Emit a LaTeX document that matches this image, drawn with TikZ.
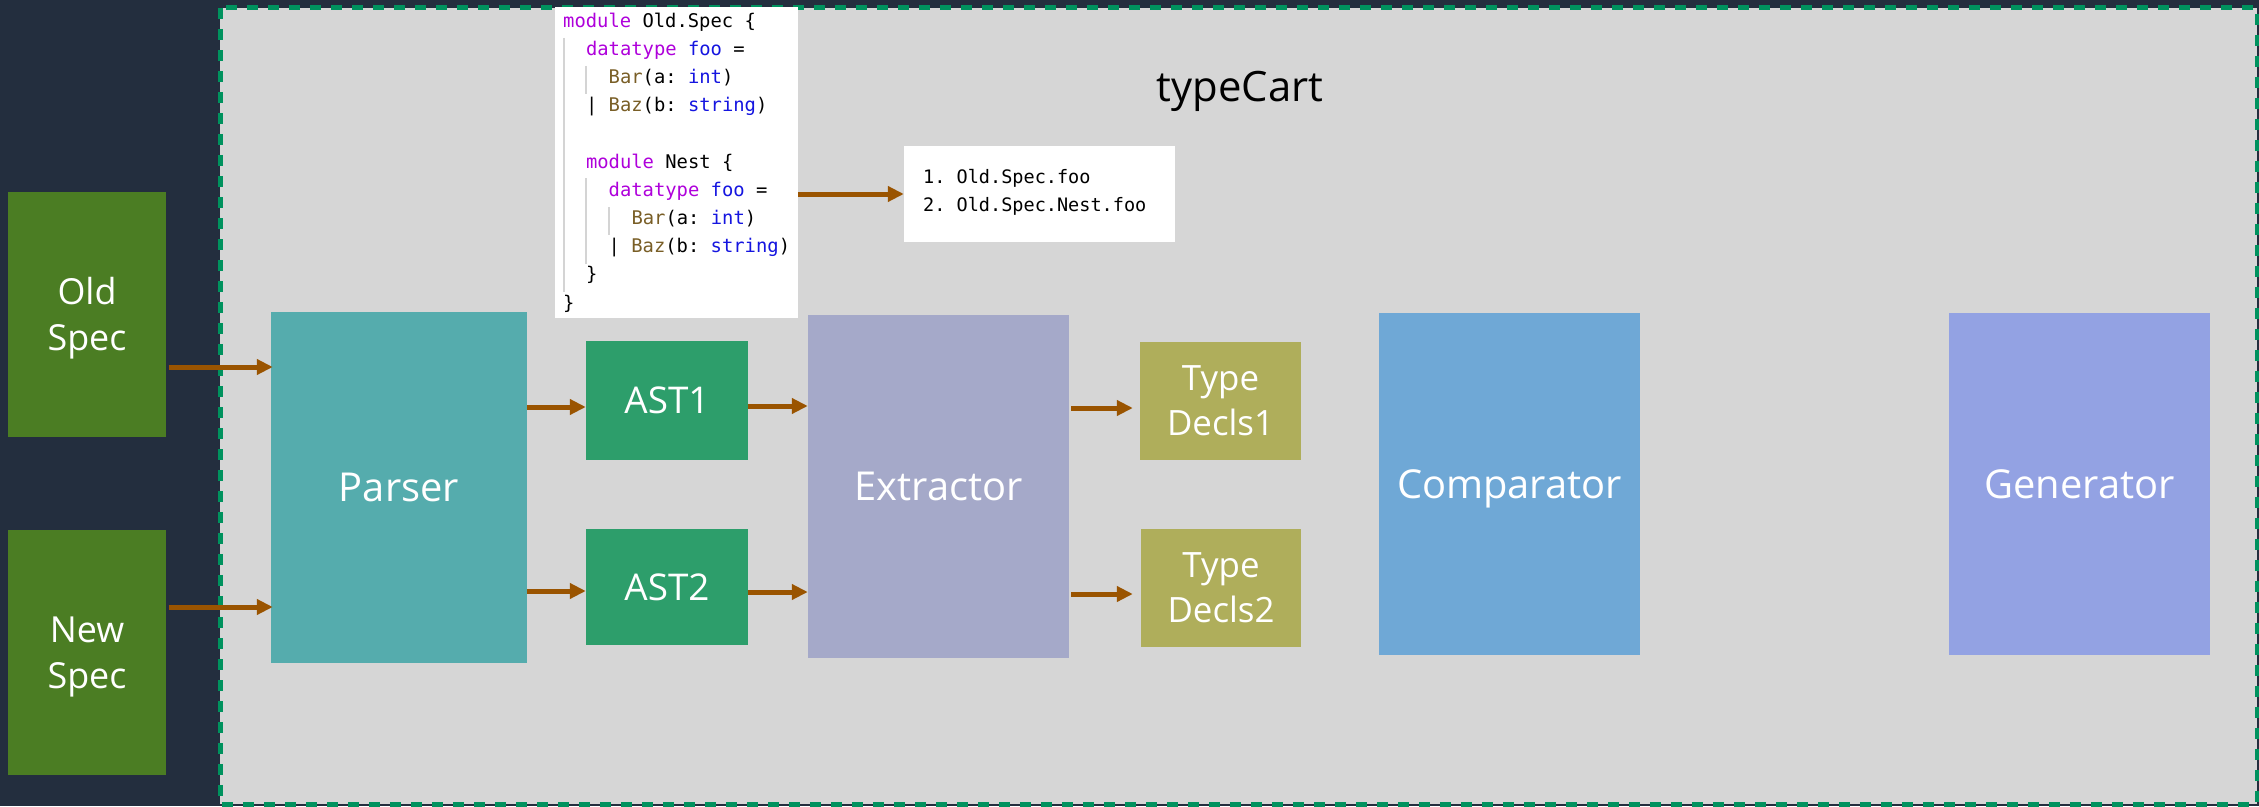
\documentclass[tikz,border=0pt]{standalone}
\usepackage{fontspec}
\setmainfont{Open Sans}
\newfontfamily\codefont{DejaVu Sans Mono}
\usetikzlibrary{arrows.meta}
\definecolor{darkbg}{HTML}{232E3E}
\definecolor{regionbg}{HTML}{D6D6D6}
\definecolor{regionline}{HTML}{00925E}
\definecolor{specgreen}{HTML}{4B7D23}
\definecolor{parsercol}{HTML}{55ACAD}
\definecolor{astcol}{HTML}{2D9E6B}
\definecolor{extcol}{HTML}{A5A9C9}
\definecolor{tdcol}{HTML}{AFAE5B}
\definecolor{compcol}{HTML}{6FA8D6}
\definecolor{gencol}{HTML}{93A2E3}
\definecolor{arrowc}{HTML}{9A5400}
\definecolor{kwcol}{HTML}{AF00DB}
\definecolor{tycol}{HTML}{1515E0}
\definecolor{fncol}{HTML}{795E26}
\definecolor{guidecol}{HTML}{D4D4D4}
\newcommand{\kw}[1]{\textcolor{kwcol}{#1}}
\newcommand{\ty}[1]{\textcolor{tycol}{#1}}
\newcommand{\fn}[1]{\textcolor{fncol}{#1}}
\begin{document}
\begin{tikzpicture}[x=1bp,y=-1bp,
  box/.style={inner sep=0bp, text=white, align=center},
  bigbox/.style={box, text depth=0bp, font=\fontsize{40}{48}\selectfont},
  smallbox/.style={box, font=\fontsize{37}{46}\selectfont},
  speclabel/.style={anchor=base, inner sep=0bp, text=white, font=\fontsize{36}{46}\selectfont},
  arr/.style={draw=arrowc, line width=5bp, -{Triangle[length=16bp,width=15bp]}},
  codeline/.style={anchor=mid west, inner sep=0bp, font=\codefont\frenchspacing\fontsize{18.9}{28}\selectfont},
  listline/.style={codeline, font=\codefont\frenchspacing\fontsize{18.6}{28}\selectfont},
  guide/.style={draw=guidecol, line width=1.2bp}
]
\useasboundingbox (0,0) rectangle (2259,806);
\fill[darkbg] (0,0) rectangle (2259,806);
% typeCart region
\draw[fill=regionbg, draw=regionline, line width=5bp, dash pattern=on 11bp off 10bp] (220,8) rectangle (2257,804);
\node[anchor=base, inner sep=0bp, font=\fontsize{42}{48}\selectfont, text=black] (title) at (1240,101.7) {typeCart};

% input specs
\node[box, fill=specgreen, minimum width=157bp, minimum height=245bp] (old) at (87,314) {};
\node[speclabel] (oldl1) at (87,304) {Old};
\node[speclabel] (oldl2) at (87,350) {Spec};
\node[box, fill=specgreen, minimum width=157bp, minimum height=245bp] (new) at (87,652.5) {};
\node[speclabel] (newl1) at (87,642.5) {New};
\node[speclabel] (newl2) at (87,688.5) {Spec};

% pipeline
\node[bigbox, fill=parsercol, minimum width=256bp, minimum height=351bp] (parser) at (399,487.5) {Parser};
\node[smallbox, fill=astcol, minimum width=162bp, minimum height=119bp] (ast1) at (667,400.5) {AST1};
\node[smallbox, fill=astcol, minimum width=162bp, minimum height=116bp] (ast2) at (667,587) {AST2};
\node[bigbox, fill=extcol, minimum width=261bp, minimum height=343bp] (extractor) at (938.5,486.5) {Extractor};
\node[box, fill=tdcol, minimum width=161bp, minimum height=118bp, font=\fontsize{35}{45}\selectfont] (td1) at (1220.5,401) {Type\\Decls1};
\node[box, fill=tdcol, minimum width=160bp, minimum height=118bp, font=\fontsize{35}{45}\selectfont] (td2) at (1221,588) {Type\\Decls2};
\node[bigbox, fill=compcol, minimum width=261bp, minimum height=342bp] (comparator) at (1509.5,484) {Comparator};
\node[bigbox, fill=gencol, minimum width=261bp, minimum height=342bp] (generator) at (2079.5,484) {Generator};

% code box
\node[fill=white, inner sep=0bp, minimum width=243bp, minimum height=311bp] (code) at (676.5,162.5) {};
\draw[guide] (564,38) -- (564,292);
\draw[guide] (586,66) -- (586,94);
\draw[guide] (586,178) -- (586,264);
\draw[guide] (609,207) -- (609,235);
\node[codeline] (c1) at (563,24.5) {\kw{module} Old.Spec \{};
\node[codeline] (c2) at (585.8,52.7) {\kw{datatype} \ty{foo} =};
\node[codeline] (c3) at (608.5,80.9) {\fn{Bar}(a: \ty{int})};
\node[codeline] (c4) at (585.8,109.1) {| \fn{Baz}(b: \ty{string})};
\node[codeline] (c6) at (585.8,165.5) {\kw{module} Nest \{};
\node[codeline] (c7) at (608.5,193.7) {\kw{datatype} \ty{foo} =};
\node[codeline] (c8) at (631.3,221.9) {\fn{Bar}(a: \ty{int})};
\node[codeline] (c9) at (608.5,250.1) {| \fn{Baz}(b: \ty{string})};
\node[codeline] (c10) at (585.8,278.3) {\}};
\node[codeline] (c11) at (563,306.5) {\}};

% list box
\node[fill=white, inner sep=0bp, minimum width=271bp, minimum height=96bp] (list) at (1039.5,194) {};
\node[listline] (l1) at (923,180.5) {1. Old.Spec.foo};
\node[listline] (l2) at (923,209) {2. Old.Spec.Nest.foo};

% connector rows
\coordinate (r1) at (0,367);
\coordinate (r2) at (0,607);
\coordinate (r3) at (0,407);
\coordinate (r4) at (0,591);
\coordinate (r5) at (0,406);
\coordinate (r6) at (0,592);
\coordinate (r7) at (0,408);
\coordinate (r8) at (0,594);

\draw[arr, shorten <=3bp] (old.east |- r1) -- ([xshift=2bp]parser.west |- r1);
\draw[arr, shorten <=3bp] (new.east |- r2) -- ([xshift=2bp]parser.west |- r2);
\draw[arr] (parser.east |- r3) -- (ast1.west |- r3);
\draw[arr] (parser.east |- r4) -- (ast2.west |- r4);
\draw[arr] (ast1.east |- r5) -- (extractor.west |- r5);
\draw[arr] (ast2.east |- r6) -- (extractor.west |- r6);
\draw[arr, shorten <=2bp, shorten >=7bp] (extractor.east |- r7) -- (td1.west |- r7);
\draw[arr, shorten <=2bp, shorten >=8bp] (extractor.east |- r8) -- (td2.west |- r8);
\draw[arr] (code.east |- list.west) -- (list.west);
\end{tikzpicture}
\end{document}
